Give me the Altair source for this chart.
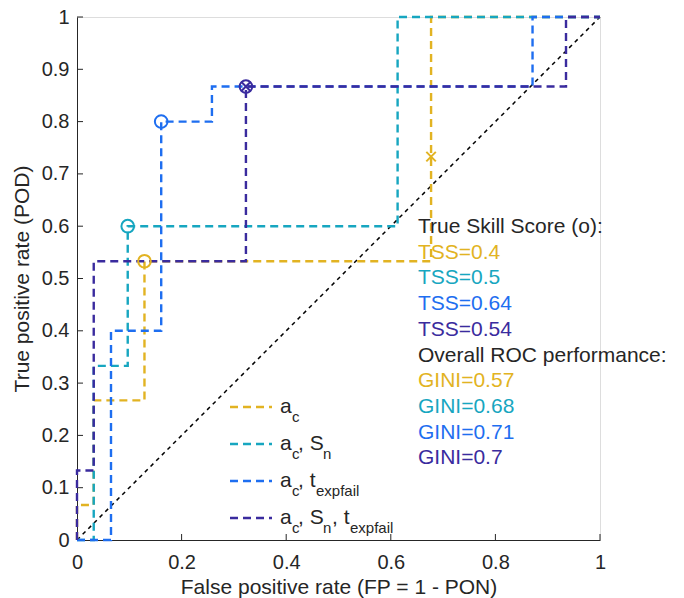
import altair as alt
import pandas as pd

# ---------------- data ----------------
SERIES = ["a_c", "a_c, S_n", "a_c, t_expfail", "a_c, S_n, t_expfail"]
COLORS = ["#E2B322", "#17A6C0", "#1E6EF0", "#3A2B9E"]

FPR_AC = [0, 0, 0.032, 0.032, 0.129, 0.129, 0.677, 0.677, 1]
TPR_AC = [0, 0.067, 0.067, 0.267, 0.267, 0.533, 0.533, 1, 1]
FPR_ACSN = [0, 0.032, 0.032, 0.097, 0.097, 0.613, 0.613, 1]
TPR_ACSN = [0, 0, 0.333, 0.333, 0.6, 0.6, 1, 1]
FPR_ACT = [0, 0.065, 0.065, 0.161, 0.161, 0.258, 0.258, 0.871, 0.871, 1]
TPR_ACT = [0, 0, 0.4, 0.4, 0.8, 0.8, 0.867, 0.867, 1, 1]
FPR_ALL = [0, 0, 0.032, 0.032, 0.323, 0.323, 0.935, 0.935, 1]
TPR_ALL = [0, 0.133, 0.133, 0.533, 0.533, 0.867, 0.867, 1, 1]

# best TSS points (circles) and threshold points (x)
TSS_FPR = [0.129, 0.097, 0.161, 0.323]
TSS_TPR = [0.533, 0.6, 0.8, 0.867]
X_SERIES = ["a_c", "a_c, S_n, t_expfail"]
X_FPR = [0.677, 0.323]
X_TPR = [0.733, 0.867]

TSS_TEXT = ["TSS=0.4", "TSS=0.5", "TSS=0.64", "TSS=0.54"]
GINI_TEXT = ["GINI=0.57", "GINI=0.68", "GINI=0.71", "GINI=0.7"]
HEAD_TSS = "True Skill Score (o):"
HEAD_GINI = "Overall ROC performance:"

X_TICKS = [0, 0.2, 0.4, 0.6, 0.8, 1]
Y_TICKS = [0, 0.1, 0.2, 0.3, 0.4, 0.5, 0.6, 0.7, 0.8, 0.9, 1]

# ---------------- layout ----------------
W = 523
H = 523
FONT = "Liberation Sans"
INK = "#262626"
FS = 20

xs = alt.Scale(domain=[0, 1], nice=False, zero=False)
ys = alt.Scale(domain=[0, 1], nice=False, zero=False)
cscale = alt.Scale(domain=SERIES, range=COLORS)

curves = {
    SERIES[0]: (FPR_AC, TPR_AC),
    SERIES[1]: (FPR_ACSN, TPR_ACSN),
    SERIES[2]: (FPR_ACT, TPR_ACT),
    SERIES[3]: (FPR_ALL, TPR_ALL),
}

layers = []

# axes (no ticks; inward ticks drawn separately)
base_axes = alt.Chart(pd.DataFrame({"x": [0], "y": [0]})).mark_point(opacity=0).encode(
    x=alt.X("x:Q", scale=xs,
            axis=alt.Axis(values=X_TICKS, format="~g", ticks=False, tickSize=0, grid=False,
                          domainColor=INK, domainWidth=1, labelFontSize=FS, labelColor=INK,
                          labelFont=FONT, labelPadding=12, title="False positive rate (FP = 1 - PON)",
                          titleFont=FONT, titleFontSize=21, titleFontWeight="normal",
                          titleColor=INK, titlePadding=4, labelFlush=False)),
    y=alt.Y("y:Q", scale=ys,
            axis=alt.Axis(values=Y_TICKS, format="~g", ticks=False, tickSize=0, grid=False,
                          domainColor=INK, domainWidth=1, labelFontSize=FS, labelColor=INK,
                          labelFont=FONT, labelPadding=8, title="True positive rate (POD)",
                          titleFont=FONT, titleFontSize=21, titleFontWeight="normal",
                          titleColor=INK, titlePadding=9, labelFlush=False)),
)
layers.append(base_axes)

# inward ticks
xt = pd.DataFrame({"t": X_TICKS[1:]})
layers.append(alt.Chart(xt).mark_rule(color=INK, strokeWidth=1).encode(
    x=alt.X("t:Q", scale=xs), y=alt.value(H), y2=alt.value(H - 6)))
yt = pd.DataFrame({"t": Y_TICKS[1:]})
layers.append(alt.Chart(yt).mark_rule(color=INK, strokeWidth=1).encode(
    y=alt.Y("t:Q", scale=ys), x=alt.value(0), x2=alt.value(6)))

# diagonal
diag = pd.DataFrame({"x": [0, 1], "y": [0, 1]})
layers.append(alt.Chart(diag).mark_line(color="black", strokeWidth=1.5, strokeDash=[4, 4]).encode(
    x=alt.X("x:Q", scale=xs), y=alt.Y("y:Q", scale=ys)))

# ROC step curves (yellow at bottom, purple on top)
for name in SERIES:
    fx, ty = curves[name]
    d = pd.DataFrame({"x": fx, "y": ty, "o": list(range(len(fx))), "s": name})
    layers.append(alt.Chart(d).mark_line(strokeWidth=2.4, strokeDash=[8, 5]).encode(
        x=alt.X("x:Q", scale=xs), y=alt.Y("y:Q", scale=ys), order="o:Q",
        color=alt.Color("s:N", scale=cscale, legend=None)))

# TSS circles
tss = pd.DataFrame({"x": TSS_FPR, "y": TSS_TPR, "s": SERIES})
layers.append(alt.Chart(tss).mark_point(shape="circle", filled=False, size=160, strokeWidth=2,
                                        opacity=1).encode(
    x=alt.X("x:Q", scale=xs), y=alt.Y("y:Q", scale=ys),
    color=alt.Color("s:N", scale=cscale, legend=None)))

# x markers
xm = pd.DataFrame({"x": X_FPR, "y": X_TPR, "s": X_SERIES})
layers.append(alt.Chart(xm).mark_point(shape="M-1,-1L1,1M-1,1L1,-1", filled=False, size=90,
                                       strokeWidth=2, opacity=1).encode(
    x=alt.X("x:Q", scale=xs), y=alt.Y("y:Q", scale=ys),
    color=alt.Color("s:N", scale=cscale, legend=None)))

# annotation text block
ann_text = [HEAD_TSS] + TSS_TEXT + [HEAD_GINI] + GINI_TEXT
ann_col = [INK] + COLORS + [INK] + COLORS
ann = pd.DataFrame({"t": ann_text, "c": ann_col, "i": list(range(len(ann_text)))})
ann["x"] = (418 - 77) / W
ann["y"] = (540 - (227 + ann["i"] * 25.7)) / H
layers.append(alt.Chart(ann).mark_text(align="left", baseline="middle", font=FONT,
                                       fontSize=21).encode(
    x=alt.X("x:Q", scale=xs), y=alt.Y("y:Q", scale=ys), text="t:N",
    color=alt.Color("c:N", scale=None)))

# manual legend
leg_rows = [(540 - p) / H for p in [407, 444, 481, 518]]
leg_lines = pd.DataFrame({"x": [(230 - 77) / W] * 4, "x2": [(272 - 77) / W] * 4,
                          "y": leg_rows, "s": SERIES})
layers.append(alt.Chart(leg_lines).mark_rule(strokeWidth=2.4, strokeDash=[8, 5]).encode(
    x=alt.X("x:Q", scale=xs), x2="x2:Q", y=alt.Y("y:Q", scale=ys),
    color=alt.Color("s:N", scale=cscale, legend=None)))

# pieces: (row, text, is_sub, dx px)
pieces = [
    (0, "a", 0, 0), (0, "c", 1, 12),
    (1, "a", 0, 0), (1, "c", 1, 12), (1, ", S", 0, 18), (1, "n", 1, 43),
    (2, "a", 0, 0), (2, "c", 1, 12), (2, ", t", 0, 18), (2, "expfail", 1, 36),
    (3, "a", 0, 0), (3, "c", 1, 12), (3, ", S", 0, 18), (3, "n", 1, 43),
    (3, ", t", 0, 52), (3, "expfail", 1, 70),
]
pc = pd.DataFrame(pieces, columns=["r", "t", "sub", "dx"])
pc["x"] = (280 - 77 + pc["dx"]) / W
pc["y"] = [leg_rows[r] for r in pc["r"]]
main_p = pc[pc["sub"] == 0]
sub_p = pc[pc["sub"] == 1]
layers.append(alt.Chart(main_p).mark_text(align="left", baseline="middle", font=FONT,
                                          fontSize=21, color=INK).encode(
    x=alt.X("x:Q", scale=xs), y=alt.Y("y:Q", scale=ys), text="t:N"))
layers.append(alt.Chart(sub_p).mark_text(align="left", baseline="middle", font=FONT,
                                         fontSize=15, color=INK, dy=10).encode(
    x=alt.X("x:Q", scale=xs), y=alt.Y("y:Q", scale=ys), text="t:N"))

chart = alt.layer(*layers).properties(
    width=W, height=H, autosize="none",
    padding={"left": 77, "top": 17, "right": 84, "bottom": 58},
).configure_view(stroke=None).configure(background="white")

chart.save("out.html", embed_options={"renderer": "svg", "actions": False})
